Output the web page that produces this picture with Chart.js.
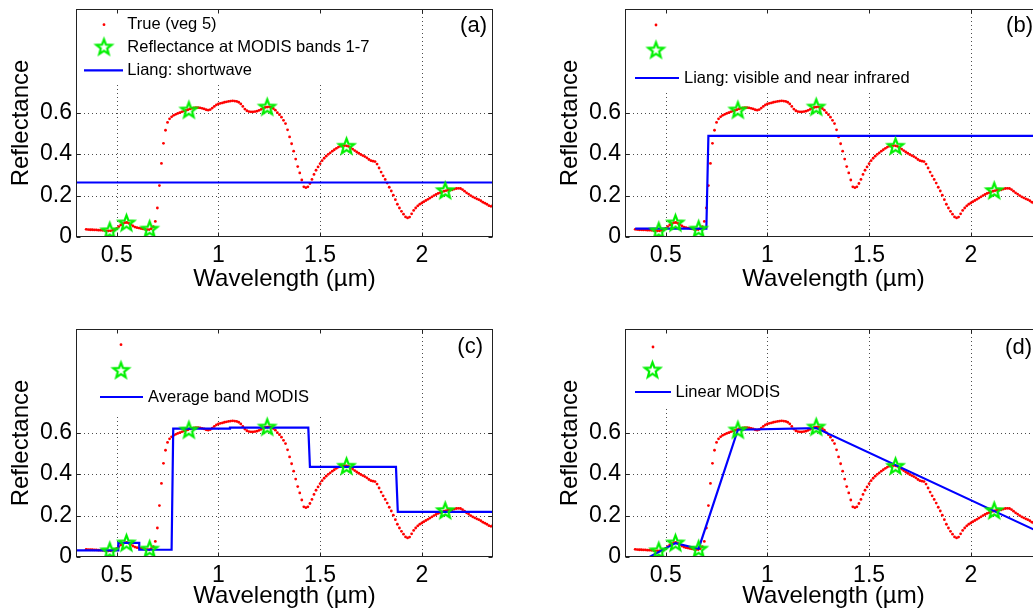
<!DOCTYPE html>
<html lang="en">
<head>
<meta charset="UTF-8">
<title>Reflectance spectra - MODIS band schemes</title>
<script src="https://cdn.jsdelivr.net/npm/chart.js"></script>
<style>
    html, body { margin: 0; padding: 0; background: #fff; width: 1033px; height: 615px; overflow: hidden; }
    canvas { position: absolute; }
</style>
</head>
<body>
<canvas id="grafico_a" width="520" height="310" style="left:0px;top:0px"></canvas>
<canvas id="grafico_b" width="520" height="310" style="left:549px;top:0px"></canvas>
<canvas id="grafico_c" width="520" height="310" style="left:0px;top:320px"></canvas>
<canvas id="grafico_d" width="520" height="310" style="left:549px;top:320px"></canvas>
<script>
// spectrum "veg 5", sampled every 10 nm from 0.35 to 2.35 um
const wlStart = 0.35;
const wlStep = 0.01;
const trueRefl = [
    0.037, 0.036, 0.035, 0.035, 0.034, 0.034, 0.033, 0.033, 0.032, 0.031,
    0.030, 0.030, 0.030, 0.032, 0.036, 0.042, 0.050, 0.058, 0.065, 0.069,
    0.070, 0.066, 0.060, 0.053, 0.048, 0.045, 0.043, 0.041, 0.039, 0.037,
    0.036, 0.036, 0.040, 0.050, 0.075, 0.140, 0.248, 0.355, 0.452, 0.515,
    0.553, 0.570, 0.580, 0.587, 0.592, 0.596, 0.600, 0.604, 0.607, 0.611,
    0.614, 0.618, 0.621, 0.623, 0.624, 0.624, 0.623, 0.621, 0.618, 0.614,
    0.612, 0.615, 0.622, 0.630, 0.637, 0.642, 0.645, 0.647, 0.650, 0.652,
    0.654, 0.656, 0.657, 0.656, 0.654, 0.650, 0.642, 0.630, 0.617, 0.609,
    0.605, 0.604, 0.604, 0.605, 0.607, 0.611, 0.616, 0.621, 0.625, 0.627,
    0.628, 0.626, 0.620, 0.612, 0.600, 0.590, 0.578, 0.563, 0.547, 0.517,
    0.483, 0.450, 0.414, 0.376, 0.340, 0.309, 0.275, 0.242, 0.238, 0.242,
    0.258, 0.278, 0.302, 0.322, 0.338, 0.354, 0.368, 0.380, 0.390, 0.399,
    0.406, 0.414, 0.421, 0.428, 0.434, 0.438, 0.440, 0.441, 0.440, 0.437,
    0.431, 0.424, 0.417, 0.410, 0.404, 0.398, 0.393, 0.388, 0.382, 0.374,
    0.368, 0.366, 0.364, 0.352, 0.333, 0.313, 0.295, 0.278, 0.260, 0.240,
    0.222, 0.202, 0.180, 0.158, 0.140, 0.124, 0.110, 0.097, 0.092, 0.096,
    0.112, 0.128, 0.140, 0.150, 0.158, 0.164, 0.170, 0.176, 0.182, 0.188,
    0.194, 0.200, 0.205, 0.210, 0.214, 0.218, 0.221, 0.224, 0.226, 0.227,
    0.228, 0.231, 0.234, 0.235, 0.234, 0.229, 0.221, 0.213, 0.207, 0.200,
    0.194, 0.189, 0.184, 0.180, 0.175, 0.168, 0.163, 0.158, 0.151, 0.148,
    0.155
];

// reflectance at MODIS bands 3, 4, 1, 2, 5, 6, 7 (sorted by wavelength)
const bandWl = [0.466, 0.548, 0.662, 0.855, 1.240, 1.630, 2.115];
const bandRefl = [0.030, 0.068, 0.038, 0.613, 0.627, 0.438, 0.224];

// (a) Liang shortwave
const liangSwX = [0.30, 2.35];
const liangSwY = [0.263, 0.263];
// (b) Liang visible / near infrared
const liangVnirX = [0.35, 0.70, 0.71, 2.35];
const liangVnirY = [0.040, 0.040, 0.488, 0.488];
// (c) band average steps
const avgBandX = [0.30, 0.508, 0.508, 0.611, 0.611, 0.770, 0.778, 1.057, 1.057, 1.442, 1.450, 1.873, 1.882, 2.35];
const avgBandY = [0.032, 0.032, 0.068, 0.068, 0.035, 0.035, 0.619, 0.619, 0.624, 0.624, 0.435, 0.435, 0.218, 0.218];
// (d) linear between bands
const linearX = [0.30, 0.42, 0.548, 0.662, 0.855, 1.240, 2.35];
const linearY = [0.000, 0.000, 0.067, 0.040, 0.614, 0.622, 0.114];

const xTicks = [0.5, 1, 1.5, 2];
const yTicks = [0, 0.2, 0.4, 0.6];

const fonte = "'Liberation Sans', Arial, Helvetica, sans-serif";

// green pentagram marker
function criarEstrela(r, lw) {
    const size = Math.ceil(2 * r + lw + 4);
    const c = document.createElement('canvas');
    c.width = size;
    c.height = size;
    const g = c.getContext('2d');
    const cx = size / 2, cy = size / 2 + r * 0.05;
    g.beginPath();
    for (let k = 0; k < 10; k++) {
        const ang = -Math.PI / 2 + k * Math.PI / 5;
        const rad = k % 2 ? r * 0.42 : r;
        const px = cx + rad * Math.cos(ang), py = cy + rad * Math.sin(ang);
        if (k === 0) g.moveTo(px, py); else g.lineTo(px, py);
    }
    g.closePath();
    g.strokeStyle = '#00f000';
    g.lineWidth = lw;
    g.lineJoin = 'miter';
    g.stroke();
    return c;
}
const estrela = criarEstrela(8, 2.2);

function pares(xs, ys) {
    return xs.map((x, i) => ({ x: x, y: ys[i] }));
}

const pontosTrue = trueRefl.map((r, i) => ({ x: +(wlStart + i * wlStep).toFixed(2), y: r }));
const pontosBandas = pares(bandWl, bandRefl);

// grid, box, inward ticks, legend and panel tag, matlab style
const eixosPlugin = {
    id: 'eixosMatlab',
    beforeDatasetsDraw(chart, args, opts) {
        const { ctx, chartArea: a, scales: { x, y } } = chart;
        ctx.save();
        ctx.strokeStyle = 'rgba(0,0,0,0.7)';
        ctx.lineWidth = 1;
        ctx.setLineDash([1, 3]);
        ctx.beginPath();
        xTicks.forEach(v => {
            const px = Math.round(x.getPixelForValue(v)) + 0.5;
            ctx.moveTo(px, a.top);
            ctx.lineTo(px, a.bottom);
        });
        yTicks.forEach(v => {
            if (v === 0) return;
            const py = Math.round(y.getPixelForValue(v)) + 0.5;
            ctx.moveTo(a.left, py);
            ctx.lineTo(a.right, py);
        });
        ctx.stroke();
        ctx.setLineDash([]);
        // legend backdrop hides the grid under it
        const b = opts.caixa;
        ctx.fillStyle = '#fff';
        ctx.fillRect(a.left + b[0], a.top + b[1], b[2], b[3]);
        ctx.restore();
    },
    afterDraw(chart, args, opts) {
        const { ctx, chartArea: a, scales: { x, y } } = chart;
        ctx.save();
        ctx.strokeStyle = '#222';
        ctx.lineWidth = 1;
        const L = Math.round(a.left) + 0.5, R = Math.round(a.right) - 0.5;
        const T = Math.round(a.top) + 0.5, B = Math.round(a.bottom) - 0.5;
        ctx.strokeRect(L, T, R - L, B - T);
        const tl = 4;
        ctx.beginPath();
        xTicks.forEach(v => {
            const px = Math.round(x.getPixelForValue(v)) + 0.5;
            ctx.moveTo(px, B); ctx.lineTo(px, B - tl);
            ctx.moveTo(px, T); ctx.lineTo(px, T + tl);
        });
        yTicks.forEach(v => {
            const py = Math.round(y.getPixelForValue(v)) + 0.5;
            ctx.moveTo(L, py); ctx.lineTo(L + tl, py);
            ctx.moveTo(R, py); ctx.lineTo(R - tl, py);
        });
        ctx.stroke();

        // legend
        const lg = opts.legenda;
        ctx.fillStyle = '#ff0000';
        ctx.beginPath();
        ctx.arc(a.left + lg.ponto[0], a.top + lg.ponto[1], 1.4, 0, Math.PI * 2);
        ctx.fill();
        ctx.drawImage(estrela, a.left + lg.estrela[0] - estrela.width / 2, a.top + lg.estrela[1] - estrela.height / 2);
        ctx.strokeStyle = '#0000ff';
        ctx.lineWidth = 2.2;
        ctx.beginPath();
        ctx.moveTo(a.left + lg.linha[0], a.top + lg.linha[2]);
        ctx.lineTo(a.left + lg.linha[1], a.top + lg.linha[2]);
        ctx.stroke();
        ctx.fillStyle = '#000';
        ctx.font = '16.5px ' + fonte;
        ctx.textAlign = 'left';
        ctx.textBaseline = 'middle';
        const ys = [lg.ponto[1], lg.estrela[1], lg.linha[2]];
        lg.textos.forEach((t, i) => {
            if (t) ctx.fillText(t, a.left + lg.textoX, a.top + ys[i]);
        });

        // panel tag
        ctx.font = '22px ' + fonte;
        ctx.textAlign = 'right';
        ctx.fillText(opts.tag, a.right - opts.tagPos[0], a.top + opts.tagPos[1]);
        ctx.restore();
    }
};

function plotarPainel(id, linhaX, linhaY, legenda, caixa, tag, tagPos, tituloPad) {
    const dados = {
        datasets: [
            {
                label: 'Reflectance at MODIS bands 1-7',
                data: pontosBandas,
                showLine: false,
                pointStyle: estrela,
                pointRadius: 8,
                order: 1
            },
            {
                label: legenda.textos[2],
                data: pares(linhaX, linhaY),
                showLine: true,
                borderColor: '#0000ff',
                borderWidth: 2.2,
                pointRadius: 0,
                tension: 0,
                order: 2
            },
            {
                label: 'True (veg 5)',
                data: pontosTrue,
                showLine: false,
                pointRadius: 1.4,
                pointBorderWidth: 0,
                pointBackgroundColor: '#ff0000',
                pointBorderColor: '#ff0000',
                order: 3
            }
        ]
    };

    const config = {
        type: 'scatter',
        data: dados,
        plugins: [eixosPlugin],
        options: {
            responsive: false,
            animation: false,
            devicePixelRatio: 1,
            layout: { padding: { left: 0, top: 7, right: 27, bottom: 0 } },
            plugins: {
                legend: { display: false },
                tooltip: { enabled: false },
                eixosMatlab: { legenda: legenda, caixa: caixa, tag: tag, tagPos: tagPos }
            },
            scales: {
                x: {
                    type: 'linear',
                    min: 0.3,
                    max: 2.35,
                    afterBuildTicks: s => { s.ticks = xTicks.map(v => ({ value: v })); },
                    afterFit: s => { s.height = 73; s.paddingLeft = 0; s.paddingRight = 0; },
                    grid: { display: false, drawTicks: false },
                    border: { display: false },
                    ticks: {
                        autoSkip: false, maxRotation: 0, padding: 5, color: '#000',
                        font: { family: fonte, size: 23 },
                        callback: v => String(v)
                    },
                    title: {
                        display: true, text: 'Wavelength (µm)', color: '#000',
                        font: { family: fonte, size: 24 },
                        padding: { top: 0, bottom: tituloPad }
                    }
                },
                y: {
                    type: 'linear',
                    min: 0,
                    max: 1.1,
                    afterBuildTicks: s => { s.ticks = yTicks.map(v => ({ value: v })); },
                    afterFit: s => { s.width = 76; s.paddingTop = 0; s.paddingBottom = 0; },
                    grid: { display: false, drawTicks: false },
                    border: { display: false },
                    ticks: {
                        autoSkip: false, padding: 4, color: '#000',
                        font: { family: fonte, size: 23 },
                        callback: v => String(v)
                    },
                    title: {
                        display: true, text: 'Reflectance', color: '#000',
                        font: { family: fonte, size: 24 },
                        padding: { top: 6.6, bottom: 0 }
                    }
                }
            }
        }
    };

    return new Chart(document.getElementById(id), config);
}

plotarPainel('grafico_a', liangSwX, liangSwY,
    { ponto: [28, 15.7], estrela: [28, 38], linha: [8, 47, 61.3], textoX: 51.3,
      textos: ['True (veg 5)', 'Reflectance at MODIS bands 1-7', 'Liang: shortwave'] },
    [1, 1, 309, 75], '(a)', [6, 17], 16.6);

plotarPainel('grafico_b', liangVnirX, liangVnirY,
    { ponto: [31, 16], estrela: [31, 41], linha: [10, 54, 69], textoX: 59,
      textos: ['', '', 'Liang: visible and near infrared'] },
    [1, 1, 295, 82], '(b)', [9, 17], 16.6);

plotarPainel('grafico_c', avgBandX, avgBandY,
    { ponto: [45, 15.7], estrela: [45, 41.3], linha: [24, 67, 68], textoX: 72,
      textos: ['', '', 'Average band MODIS'] },
    [1, 1, 249, 84], '(c)', [10, 18], 19);

plotarPainel('grafico_d', linearX, linearY,
    { ponto: [28, 18], estrela: [27.5, 41], linha: [10, 46, 63], textoX: 50.5,
      textos: ['', '', 'Linear MODIS'] },
    [1, 1, 134, 76], '(d)', [10, 19], 19);
</script>
</body>
</html>
